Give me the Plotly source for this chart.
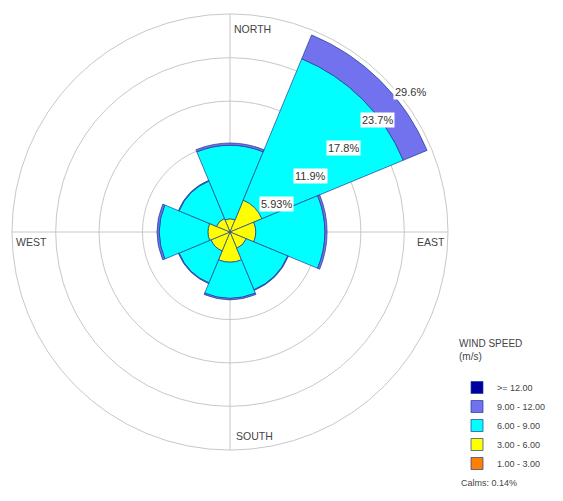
import numpy as np
import plotly.graph_objects as go

# ---------------- data ----------------
directions = ["N", "NE", "E", "SE", "S", "SW", "W", "NW"]
theta_deg = [0, 45, 90, 135, 180, 225, 270, 315]
speed_bins = ["1.00 - 3.00", "3.00 - 6.00", "6.00 - 9.00", "9.00 - 12.00", ">= 12.00"]
freq_1_3 = [0.1, 0.1, 0.1, 0.1, 0.1, 0.1, 0.1, 0.1]
freq_3_6 = [1.7, 4.6, 3.4, 2.3, 4.0, 2.7, 2.9, 1.9]
freq_6_9 = [10.0, 20.8, 9.4, 6.1, 4.9, 4.7, 6.6, 5.5]
freq_9_12 = [0.3, 3.5, 0.3, 0.1, 0.2, 0.1, 0.3, 0.1]
freq_12p = [0.0, 0.0, 0.0, 0.0, 0.0, 0.0, 0.0, 0.0]
ring_values = [5.93, 11.9, 17.8, 23.7, 29.6]
ring_labels = ["5.93%", "11.9%", "17.8%", "23.7%", "29.6%"]
compass_labels = ["NORTH", "EAST", "SOUTH", "WEST"]
calms_text = "Calms: 0.14%"
R_MAX = 29.64

colors = ["#FF8000", "#FFFF00", "#00FFFF", "#7272EE", "#0000A0"]
series = [freq_1_3, freq_3_6, freq_6_9, freq_9_12, freq_12p]

# page has an 8px body margin; figure is sized to fill the rest of the 563x501 window
OFF = 8
W, H = 563 - OFF, 501 - OFF


def px_x(page_x):
    return (page_x - OFF) / W


def px_y(page_y):
    return 1 - (page_y - OFF) / H


cx0, cx1 = px_x(12), px_x(448)
cy0, cy1 = px_y(450), px_y(14)

fig = go.Figure()
for name, vals, col in zip(speed_bins, series, colors):
    fig.add_trace(go.Barpolar(
        r=vals, theta=theta_deg, width=[45] * len(theta_deg), name=name,
        marker=dict(color=col, line=dict(color="rgba(30,60,150,0.7)", width=1)),
        subplot="polar", hoverinfo="skip",
    ))

# calm circle at the centre
fig.add_trace(go.Scatter(
    x=[0], y=[0], mode="markers", showlegend=False, hoverinfo="skip",
    marker=dict(size=9, color="white", line=dict(color="#9aa640", width=1.5)),
    xaxis="x", yaxis="y",
))

ann = []
ang = np.deg2rad(50)
for v, t in zip(ring_values, ring_labels):
    ann.append(dict(x=v * np.sin(ang), y=v * np.cos(ang), xref="x", yref="y",
                    text=t, showarrow=False, xanchor="left", yanchor="middle",
                    xshift=-4, bgcolor="white", borderpad=1,
                    font=dict(family="Liberation Sans, Arial", size=11, color="#333333")))

dir_font = dict(family="Liberation Sans, Arial", size=10.5, color="#444444")
ann.append(dict(x=0, y=R_MAX, xref="x", yref="y", text=compass_labels[0], showarrow=False,
                xanchor="left", yanchor="top", xshift=2, yshift=-7, font=dir_font))
ann.append(dict(x=R_MAX, y=0, xref="x", yref="y", text=compass_labels[1], showarrow=False,
                xanchor="right", yanchor="top", xshift=-1, yshift=-2, font=dir_font))
ann.append(dict(x=0, y=-R_MAX, xref="x", yref="y", text=compass_labels[2], showarrow=False,
                xanchor="left", yanchor="bottom", xshift=4, yshift=6, font=dir_font))
ann.append(dict(x=-R_MAX, y=0, xref="x", yref="y", text=compass_labels[3], showarrow=False,
                xanchor="left", yanchor="top", xshift=2, yshift=-2, font=dir_font))
ann.append(dict(x=px_x(459), y=px_y(483), xref="paper", yref="paper", text=calms_text,
                showarrow=False, xanchor="left", yanchor="middle",
                font=dict(family="Liberation Sans, Arial", size=9, color="#444444")))

grid_col = "#c8c8c8"
fig.update_layout(
    width=W, height=H, margin=dict(l=0, r=0, t=0, b=0),
    paper_bgcolor="white", plot_bgcolor="rgba(0,0,0,0)",
    polar=dict(
        domain=dict(x=[cx0, cx1], y=[cy0, cy1]),
        bgcolor="white", barmode="stack", hole=0,
        angularaxis=dict(rotation=90, direction="clockwise", tickvals=[0, 90, 180, 270],
                         showticklabels=False, ticks="", gridcolor=grid_col, gridwidth=1,
                         showline=True, linecolor=grid_col, linewidth=1),
        radialaxis=dict(range=[0, R_MAX], tickvals=ring_values, showticklabels=False,
                        ticks="", showline=False, gridcolor=grid_col, gridwidth=1),
    ),
    xaxis=dict(domain=[cx0, cx1], range=[-R_MAX, R_MAX], visible=False, fixedrange=True),
    yaxis=dict(domain=[cy0, cy1], range=[-R_MAX, R_MAX], visible=False, fixedrange=True),
    legend=dict(x=px_x(457), y=px_y(334), xanchor="left", yanchor="top",
                traceorder="reversed", bgcolor="rgba(0,0,0,0)",
                font=dict(family="Liberation Sans, Arial", size=9, color="#444444"),
                title=dict(text="WIND SPEED<br>(m/s)<br> ",
                           font=dict(family="Liberation Sans, Arial", size=10, color="#444444")),
                itemclick=False),
    annotations=ann,
    showlegend=True,
)

fig.write_html("out.html")
